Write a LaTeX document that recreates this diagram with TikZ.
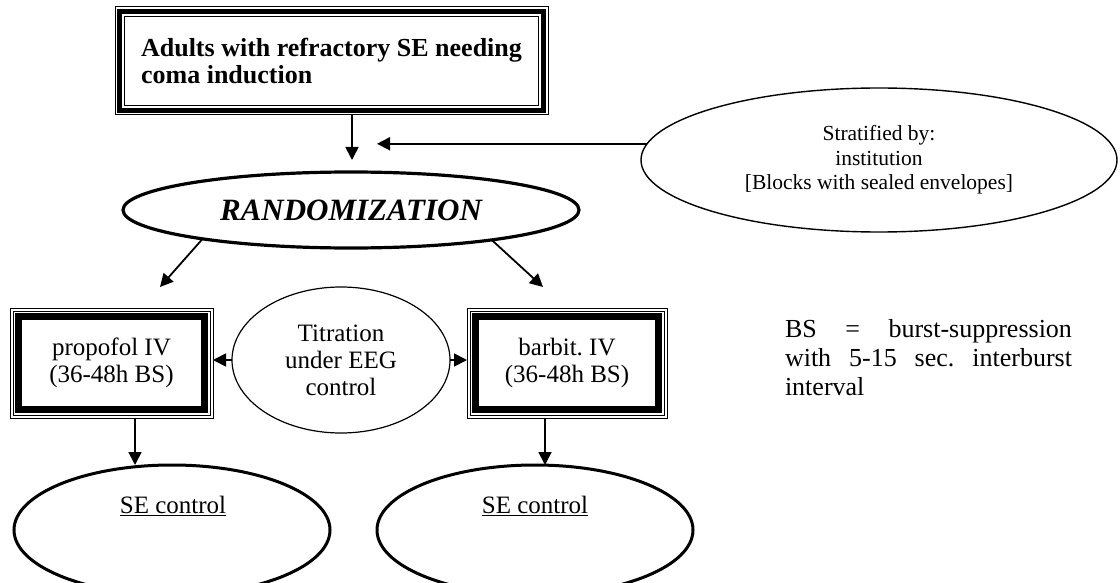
\documentclass[tikz,border=0pt]{standalone}
\usepackage{fontspec}
\setmainfont{Liberation Serif}
\usetikzlibrary{arrows.meta,shapes.geometric}
\frenchspacing
\begin{document}
\begin{tikzpicture}[x=1pt,y=-1pt,
  every node/.style={inner sep=0pt, outer sep=0pt},
  arr/.style={-{Triangle[length=13pt,width=13pt]}, line width=1.8pt},
  reg/.style={font=\fontsize{25}{27}\selectfont, align=center},
  framebox/.style={draw, line width=1pt, rectangle},
  thinframe/.style={line width=1pt},
]
\useasboundingbox (0,0) rectangle (1120,583);

% top box
\node[framebox, minimum width=433pt, minimum height=108pt,
      font=\fontsize{26}{27}\selectfont\bfseries, align=left] (adults) at (331.5,61)
      {Adults with refractory SE needing\\coma induction};
\draw[line width=5pt] ([shift={(4.5,4.5)}]adults.north west) rectangle ([shift={(-4.5,-4.5)}]adults.south east);
\draw[thinframe] ([shift={(9.5,9.5)}]adults.north west) rectangle ([shift={(-9.5,-9.5)}]adults.south east);

% randomization
\node[draw, ellipse, line width=3.2pt, minimum width=456pt, minimum height=76pt,
      font=\fontsize{31}{33}\selectfont\bfseries\itshape] (rand) at (351,210) {RANDOMIZATION};

% stratified
\node[draw, ellipse, line width=1.4pt, minimum width=476pt, minimum height=144pt,
      font=\fontsize{21.5}{24.5}\selectfont, align=center] (strat) at (879,160)
      {Stratified by:\\institution\\{[Blocks with sealed envelopes]}};

% treatment boxes
\node[framebox, minimum width=203pt, minimum height=110pt, reg] (pro) at (111.5,363) {propofol IV\\(36-48h BS)};
\draw[thinframe] ([shift={(3,3)}]pro.north west) rectangle ([shift={(-3,-3)}]pro.south east);
\draw[line width=7pt] ([shift={(8.5,8.5)}]pro.north west) rectangle ([shift={(-8.5,-8.5)}]pro.south east);

\node[framebox, minimum width=200pt, minimum height=110pt, reg] (bar) at (567,363) {barbit. IV\\(36-48h BS)};
\draw[thinframe] ([shift={(3,3)}]bar.north west) rectangle ([shift={(-3,-3)}]bar.south east);
\draw[line width=7pt] ([shift={(8.5,8.5)}]bar.north west) rectangle ([shift={(-8.5,-8.5)}]bar.south east);

% titration
\node[draw, ellipse, line width=1.2pt, minimum width=218pt, minimum height=146pt, reg] (tit) at (341,360)
      {Titration\\under EEG\\control};

% SE control ellipses
\node[draw, ellipse, line width=3pt, minimum width=316pt, minimum height=130pt] (se1) at (172,530) {};
\node[reg] (se1t) at (173,506) {\underline{SE control}};
\node[draw, ellipse, line width=3pt, minimum width=316pt, minimum height=130pt] (se2) at (535,530) {};
\node[reg] (se2t) at (535,506) {\underline{SE control}};

% BS note
\node[font=\fontsize{26}{29}\selectfont, align=left, anchor=north west] (bs) at (785,319)
  {\makebox[287pt][s]{BS = burst-suppression}\\\makebox[287pt][s]{with 5-15 sec. interburst}\\interval};

% connectors
\coordinate (t1) at (352,160);
\draw[arr] (adults.south -| t1) -- (t1);
\coordinate (t2) at (377,143);
\draw[arr] (strat.176) -- (strat.176 -| t2);
\coordinate (t3) at (160,287);
\draw[arr] (rand.191.6) -- (t3);
\coordinate (t4) at (543,287);
\draw[arr] (rand.348.7) -- (t4);
\draw[arr] (tit.west) -- (tit.west -| pro.east);
\draw[arr] (tit.east) -- (tit.east -| bar.west);
\draw[arr] ([xshift=23.5pt]pro.south) -- ([xshift=23.5pt]pro.south |- se1.north);
\draw[arr] ([xshift=-22pt]bar.south) -- ([xshift=-22pt]bar.south |- se2.north);
\end{tikzpicture}
\end{document}
